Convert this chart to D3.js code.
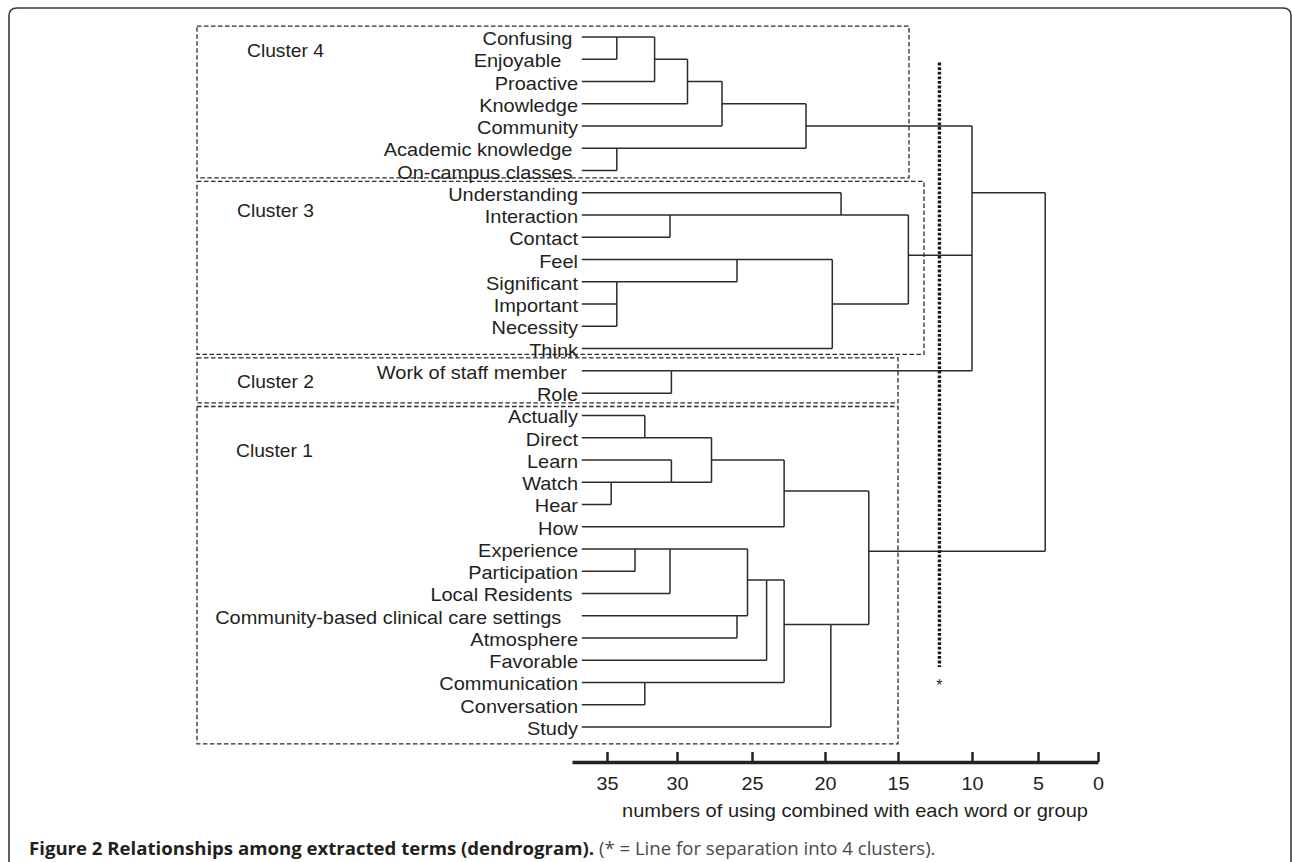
<!DOCTYPE html>
<html>
<head>
<meta charset="utf-8">
<script src="https://cdn.jsdelivr.net/npm/d3@7"></script>
<style>
body{margin:0;background:#fff}
text{font-family:"Liberation Sans",Arial,Helvetica,sans-serif;fill:#231f20}
</style>
</head>
<body>
<svg id="graph" width="1292" height="862"></svg>
<script>
"use strict"
// leaves top to bottom (trailing nbsp keeps the gap before the line, as printed)
var leaves=["Confusing\u00a0","Enjoyable\u00a0\u00a0\u00a0","Proactive","Knowledge","Community",
  "Academic knowledge\u00a0","On-campus classes\u00a0","Understanding","Interaction","Contact","Feel",
  "Significant","Important","Necessity","Think","Work of staff member\u00a0\u00a0","Role",
  "Actually","Direct","Learn","Watch","Hear","How","Experience","Participation","Local Residents\u00a0",
  "Community-based clinical care settings\u00a0\u00a0\u00a0","Atmosphere","Favorable","Communication",
  "Conversation","Study"]

// merges: name, children, height on the axis, row where the joined branch leaves
var mergeNames=["n1","n2","n3","n4","n5","c4","n6","n7","n8","n9","n10","c3","c2","top",
  "a1","a2","a3","a4","a5","b1","b2","b3","b4","b5","b6","b7","b8","c1","root"]
var mergeChildren=[
  ["Confusing","Enjoyable"],["n1","Proactive"],["n2","Knowledge"],["n3","Community"],
  ["Academic knowledge","On-campus classes"],["n4","n5"],
  ["Interaction","Contact"],["Understanding","n6"],["Significant","Important","Necessity"],
  ["Feel","n8"],["n9","Think"],["n7","n10"],
  ["Work of staff member","Role"],["c4","c3","c2"],
  ["Actually","Direct"],["Watch","Hear"],["Learn","a2"],["a1","a3"],["a4","How"],
  ["Experience","Participation"],["b1","Local Residents"],["Community-based clinical care settings","Atmosphere"],
  ["b2","b3"],["b4","Favorable"],["Communication","Conversation"],["b5","b6"],["b7","Study"],
  ["a5","b8"],["top","c1"]]
var mergeHeights=[34.3,31.6,29.3,27.0,34.3,21.3,30.5,18.9,34.3,26.0,19.5,14.3,30.4,10.0,
  32.3,34.7,30.4,27.7,22.8,33.0,30.5,26.0,25.3,24.0,32.3,22.8,19.6,17.0,4.4]
var mergeRows=[0,1,2,3,5,4,8,8,11,10,12,9.8,15,7,18,20,20,19,20.4,23,23,26,24.4,24.4,29,26.4,26.4,23.1,15]

var clusterNames=["Cluster 4","Cluster 3","Cluster 2","Cluster 1"]
var tickValues=[35,30,25,20,15,10,5,0]
var leafLevel=36.8
var cutLevel=12.2
var axisTitle="numbers of using combined with each word or group"
var captionBold="Figure 2 Relationships among extracted terms (dendrogram)."
var captionRest=" (* = Line for separation into 4 clusters)."

// layout of the dashed cluster boxes (rows are leaf rows)
var boxLayout=[{top:-0.49,bottom:6.33,right:909,lx:247,ly:0.91},
  {top:6.49,bottom:14.26,right:924,lx:237,ly:8.07},
  {top:14.42,bottom:16.44,right:898,lx:237,ly:15.78},
  {top:16.6,bottom:31.76,right:898,lx:236,ly:18.85}]

var stretch='scale(1.1,1)'
var ink='#2b2b2b'

function init(){
  var svg=d3.select('#graph')
  // the printed axis is not evenly spaced, so the scale follows its tick marks
  var x=d3.scaleLinear().domain([37.5,35,30,25,20,15,10,5,0]).range([572,607,677,752,825,898,972,1038,1098])
  var y=d3.scaleLinear().domain([0,leaves.length-1]).range([37,727])

  // frame
  svg.append('path').attr('d','M9 862 V16 Q9 8 17 8 H1283 Q1291 8 1291 16 V862')
    .attr('fill','none').attr('stroke','#3a3a3a').attr('stroke-width',1.6)

  var nodes={}
  leaves.forEach(function(l,i){nodes[l.trim()]={h:leafLevel,row:i}})
  mergeNames.forEach(function(n,i){nodes[n]={h:mergeHeights[i],row:mergeRows[i],children:mergeChildren[i]}})

  // dashed cluster boxes
  var boxes=svg.append('g')
  boxLayout.forEach(function(b,i){
    boxes.append('rect').attr('x',197).attr('y',y(b.top)).attr('width',b.right-197).attr('height',y(b.bottom)-y(b.top))
      .attr('fill','none').attr('stroke',ink).attr('stroke-width',1.3).attr('stroke-dasharray','4.5,2.5')
    boxes.append('text').attr('transform','translate('+b.lx+' '+y(b.ly)+')'+stretch)
      .attr('font-size',17.5).text(clusterNames[i])
  })

  // leaf labels
  svg.append('g').selectAll('text').data(leaves).enter().append('text')
    .attr('transform',function(d,i){return 'translate(578 '+(y(i)+8)+')scale(1.11,1)'})
    .attr('text-anchor','end').attr('font-size',18).style('white-space','pre').text(function(d){return d})

  // dendrogram links
  var links=svg.append('g').attr('fill','none').attr('stroke',ink).attr('stroke-width',1.5)
  mergeNames.forEach(function(n){
    var m=nodes[n]
    var rows=m.children.map(function(c){return nodes[c].row})
    var mx=x(m.h)
    var p='M'+mx+' '+y(d3.min(rows))+' V'+y(d3.max(rows))
    m.children.forEach(function(c){
      p+=' M'+x(nodes[c].h)+' '+y(nodes[c].row)+' H'+mx
    })
    links.append('path').attr('d',p)
  })

  // separation line
  svg.append('line').attr('x1',x(cutLevel)).attr('x2',x(cutLevel)).attr('y1',y(1.15)).attr('y2',y(28.3))
    .attr('stroke','#1a1a1a').attr('stroke-width',3.4).attr('stroke-dasharray','2.8,1.8')
  svg.append('text').attr('x',x(cutLevel)).attr('y',y(29)+9).attr('text-anchor','middle').attr('font-size',16).text('*')

  // axis
  var ax=svg.append('g').attr('transform','translate(0 762)')
    .call(d3.axisBottom(x).tickValues(tickValues).tickSizeInner(-10).tickSizeOuter(0).tickPadding(15).tickFormat(d3.format('d')))
  ax.attr('font-family',null).attr('font-size',null)
  ax.select('.domain').attr('stroke','#222').attr('stroke-width',3.5)
  ax.selectAll('.tick line').attr('stroke','#222').attr('stroke-width',2.5)
  ax.selectAll('.tick text').attr('font-size',18).attr('fill','#231f20').attr('transform',stretch)
  svg.append('text').attr('transform','translate(855 817)scale(1.115,1)').attr('text-anchor','middle')
    .attr('font-size',18).text(axisTitle)

  // caption
  var cap=svg.append('text').attr('x',29).attr('y',855).style('font-family','"Open Sans","Noto Sans",sans-serif').attr('font-size',18.6)
  cap.append('tspan').attr('font-weight','bold').attr('fill','#231f20').text(captionBold)
  cap.append('tspan').attr('fill','#4a4a4a').style('white-space','pre').text(captionRest)
}
init()
</script>
</body>
</html>
